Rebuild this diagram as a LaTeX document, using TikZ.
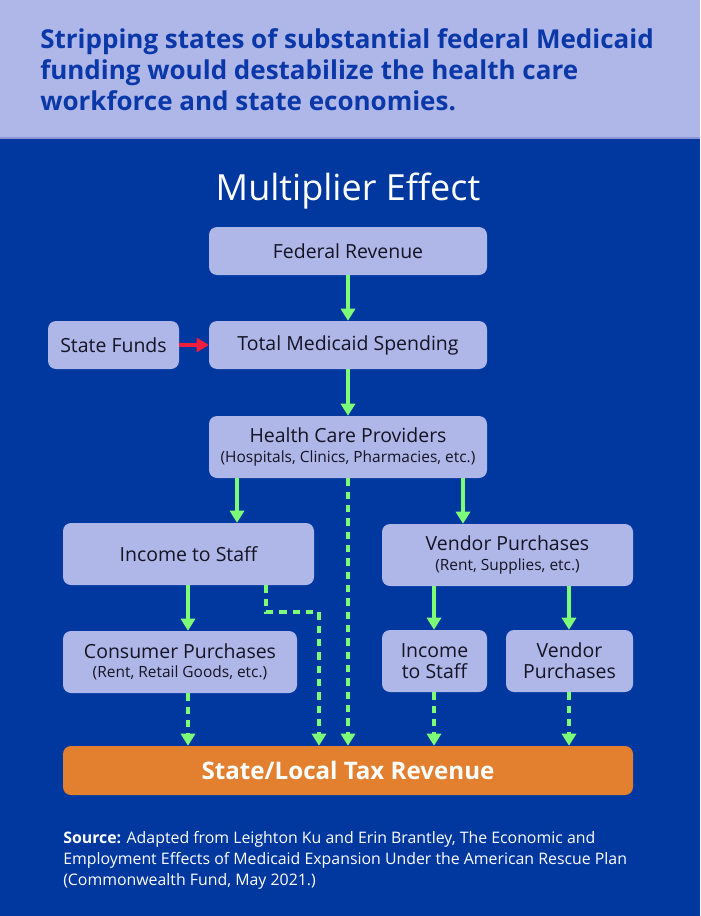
\documentclass[tikz,border=0pt]{standalone}
\usepackage{fontspec}
\setmainfont{Open Sans}
\usetikzlibrary{arrows.meta}
\definecolor{lav}{RGB}{175,182,232}
\definecolor{bgblue}{RGB}{0,56,160}
\definecolor{hdtext}{RGB}{10,56,168}
\definecolor{boxtext}{RGB}{20,20,36}
\definecolor{grn}{RGB}{125,252,120}
\definecolor{redarr}{RGB}{240,30,60}
\definecolor{orng}{RGB}{227,128,48}
\definecolor{hdline}{RGB}{140,150,215}
\tikzset{
  box/.style={fill=lav, rounded corners=6pt, inner sep=0pt, text=boxtext, align=center, font=\fontsize{14.6}{16}\selectfont},
  flow/.style={draw=grn, line width=3pt, -{Triangle[width=10.5pt,length=9pt]}},
  dflow/.style={flow, dash pattern=on 5.5pt off 4.5pt},
  hdtxt/.style={anchor=base west, inner sep=0pt, text=hdtext, font=\fontsize{19.5}{23}\selectfont\bfseries},
  srcline/.style={anchor=base west, inner sep=0pt, text=white, font=\fontsize{11.9}{15}\selectfont},
}
\newcommand{\subt}[1]{{\fontsize{11.6}{13}\selectfont #1}}
\begin{document}
\begin{tikzpicture}[x=0.75pt,y=-0.75pt]
\useasboundingbox (0,0) rectangle (700,916);
\fill[bgblue] (0,0) rectangle (700,916);
\fill[lav] (0,0) rectangle (700,138);
\draw[hdline, line width=1pt] (0,138) -- (700,138);

\node[hdtxt] (h1) at (40,49) {Stripping states of substantial federal Medicaid};
\node[hdtxt] (h2) at (40,80) {funding would destabilize the health care};
\node[hdtxt] (h3) at (40,111) {workforce and state economies.};

\node[anchor=base, inner sep=0pt, text=white, font=\fontsize{27}{30}\selectfont] (title) at (348,200) {Multiplier Effect};

\node[box, minimum width=208.5pt, minimum height=36pt] (fed) at (348,251) {Federal Revenue};
\node[box, minimum width=98.25pt, minimum height=36pt] (sf) at (113.5,345) {State Funds};
\node[box, minimum width=208.5pt, minimum height=36pt] (tot) at (348,345) {Total Medicaid Spending};
\node[box, minimum width=208.5pt, minimum height=46.5pt] (hcp) at (348,447) {Health Care Providers\\[-1.5pt]\subt{(Hospitals, Clinics, Pharmacies, etc.)}};
\node[box, minimum width=188.25pt, minimum height=46.5pt] (inc1) at (188.5,554) {Income to Staff};
\node[box, minimum width=188.25pt, minimum height=46.5pt] (ven1) at (507.5,555) {Vendor Purchases\\[-1.5pt]\subt{(Rent, Supplies, etc.)}};
\node[box, minimum width=175.5pt, minimum height=46.5pt] (cons) at (180,662) {Consumer Purchases\\[-1.5pt]\subt{(Rent, Retail Goods, etc.)}};
\node[box, minimum width=78.75pt, minimum height=46.5pt] (inc2) at (434.5,661) {Income\\to Staff};
\node[box, minimum width=95.25pt, minimum height=46.5pt] (ven2) at (569.5,661) {Vendor\\Purchases};
\node[fill=orng, rounded corners=6pt, inner sep=0pt, minimum width=427.5pt, minimum height=36.75pt, text=white, font=\fontsize{18.1}{20}\selectfont\bfseries] (tax) at (348,770.5) {State/Local Tax Revenue};

% solid flows
\draw[flow] (fed) -- (tot);
\draw[flow, draw=redarr] (sf) -- (tot);
\draw[flow] (tot) -- (hcp);
\coordinate (xa) at (237,0);
\coordinate (xb) at (463,0);
\coordinate (ic) at (188,0);
\coordinate (xc) at (434,0);
\coordinate (xd) at (569,0);
\draw[flow] (hcp.south -| xa) -- (inc1.north -| xa);
\draw[flow] (hcp.south -| xb) -- (ven1.north -| xb);
\draw[flow] (inc1.south -| ic) -- (cons.north -| ic);
\draw[flow] (ven1.south -| xc) -- (inc2.north -| xc);
\draw[flow] (ven1.south -| xd) -- (ven2.north -| xd);

% dotted flows to tax
\draw[dflow] (hcp.south) -- (tax.north -| hcp.south);
\coordinate (k1) at (266,612);
\coordinate (k2) at (319,612);
\draw[dflow] (inc1.south -| k1) -- (k1) -- (k2) -- (tax.north -| k2);
\draw[dflow] (cons.south -| ic) -- (tax.north -| ic);
\draw[dflow] (inc2.south -| xc) -- (tax.north -| xc);
\draw[dflow] (ven2.south -| xd) -- (tax.north -| xd);

\node[srcline] (s1) at (63,843) {\textbf{Source:} Adapted from Leighton Ku and Erin Brantley, The Economic and};
\node[srcline] (s2) at (63,864) {Employment Effects of Medicaid Expansion Under the American Rescue Plan};
\node[srcline] (s3) at (63,885) {(Commonwealth Fund, May 2021.)};
\end{tikzpicture}
\end{document}
